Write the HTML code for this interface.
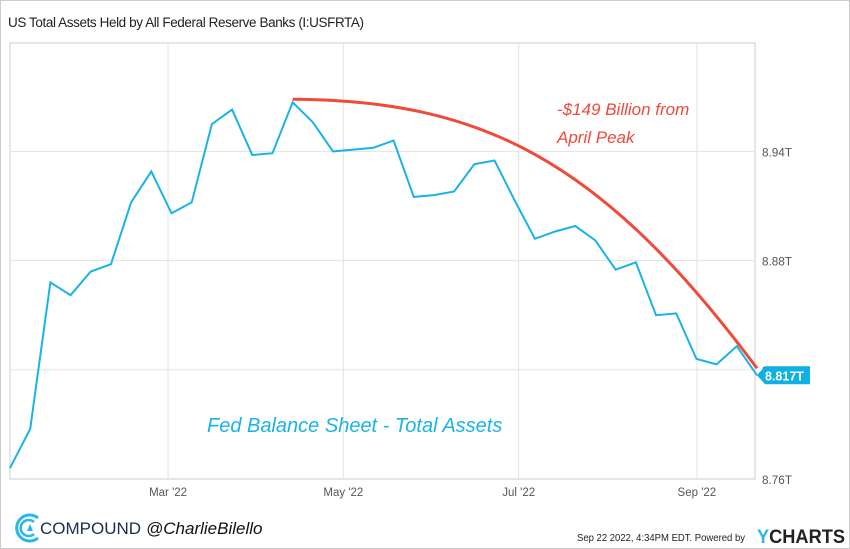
<!DOCTYPE html>
<html><head><meta charset="utf-8"><style>
body{margin:0;background:#fff;font-family:"Liberation Sans",sans-serif;}
#wrap{position:relative;width:848px;height:547px;border:1px solid #ccc;overflow:hidden;}
</style></head><body>
<div id="wrap">
<svg id="chart" width="850" height="549" style="position:absolute;left:-1px;top:-1px">
<text x="8" y="27" font-size="13.5" fill="#222" textLength="356">US Total Assets Held by All Federal Reserve Banks (I:USFRTA)</text>
<rect x="10" y="43" width="745" height="436" fill="none" stroke="#ccc"/>
<g id="grid"></g><g id="series"></g>
<text x="557" y="115" font-size="17" fill="#f04a3a" font-style="italic">-$149 Billion from</text>
<text x="557" y="143" font-size="17" fill="#f04a3a" font-style="italic">April Peak</text>
<text x="207" y="432" font-size="20" fill="#1ab3e8" font-style="italic">Fed Balance Sheet - Total Assets</text>
<g>
<path d="M38 518 A13 13 0 1 0 38 538" fill="none" stroke="#29b6f0" stroke-width="3"/>
<path d="M34 522 A8 8 0 1 0 34 534" fill="none" stroke="#29b6f0" stroke-width="2.5"/>
<path d="M27 531 L30 524 L33 531 Z" fill="#29b6f0"/>
<text x="40" y="534" font-size="17" fill="#1d2b4f">COMPOUND</text>
<text x="146" y="534" font-size="17" fill="#111" font-style="italic">@CharlieBilello</text>
</g>
<text x="577" y="541" font-size="10.5" fill="#222" textLength="168" lengthAdjust="spacingAndGlyphs">Sep 22 2022, 4:34PM EDT.  Powered by</text>
<text x="757" y="543" font-size="19" font-weight="bold" fill="#222" textLength="88" lengthAdjust="spacingAndGlyphs"><tspan fill="#29b6f0">Y</tspan>CHARTS</text>
</svg>
</div>
<script>
const yTicks=[8.76,8.82,8.88,8.94];
const yTickLabels=["8.76T","8.82T","8.88T","8.94T"];
const xTickDays=[55,116,177,239];
const xTickLabels=["Mar '22","May '22","Jul '22","Sep '22"];
const values=[8.766,8.7875,8.868,8.861,8.874,8.878,8.912,8.929,8.906,8.912,8.955,8.963,8.938,8.939,8.967,8.956,8.940,8.941,8.942,8.946,8.915,8.916,8.918,8.933,8.935,8.913,8.892,8.896,8.899,8.891,8.875,8.879,8.850,8.851,8.826,8.823,8.833,8.817];
const lastLabel="8.817T";
const peakIndex=14;
const ns="http://www.w3.org/2000/svg";
const x0=10,x1=757;
function xDay(d){return 10+d*2.874;}
function xIdx(i){return x0+i*(x1-x0)/(values.length-1);}
function y(v){return 479-(v-8.76)*1820;}
function mk(t,a,p){const e=document.createElementNS(ns,t);for(const k in a)e.setAttribute(k,a[k]);p.appendChild(e);return e;}
const grid=document.getElementById('grid'),ser=document.getElementById('series');
yTicks.forEach((v,i)=>{
 if(i>0){const l=mk('line',{x1:10,x2:755,y1:y(v),y2:y(v),stroke:'#e3e3e3'},grid);
 
 }
 const t=mk('text',{x:762,y:y(v)+5,'font-size':11.5,fill:'#555',textLength:30,lengthAdjust:'spacingAndGlyphs'},grid);t.textContent=yTickLabels[i];
 
 
});
xTickDays.forEach((d,i)=>{
 const l=mk('line',{x1:xDay(d),x2:xDay(d),y1:43,y2:479,stroke:'#e3e3e3'},grid);
 
 
 const t=mk('text',{x:xDay(d),y:496,'font-size':11.5,fill:'#555','text-anchor':'middle'},grid);t.textContent=xTickLabels[i];
 
 
});
const pl=mk('polyline',{points:values.map((v,i)=>xIdx(i)+','+y(v)).join(' '),fill:'none',stroke:'#1ab3e8','stroke-width':2},ser);


const px=xIdx(peakIndex),py=y(values[peakIndex])-3,ex=xIdx(values.length-1),ey=y(values[values.length-1])-7;
const rc=mk('path',{d:`M${px} ${py} C${px+188} ${py+1} ${px+308} ${py+59} ${ex} ${ey}`,fill:'none',stroke:'#f04a3a','stroke-width':3},ser);


const ly=y(values[values.length-1]);
const tag=mk('path',{d:`M757 ${ly} L765 ${ly-9} L810 ${ly-9} L810 ${ly+9} L765 ${ly+9} Z`,fill:'#0fb0e6'},ser);


const tt=mk('text',{x:765,y:ly+5,'font-size':12.5,'font-weight':'bold',fill:'#fff'},ser);tt.textContent=lastLabel;


</script>
</body></html>
